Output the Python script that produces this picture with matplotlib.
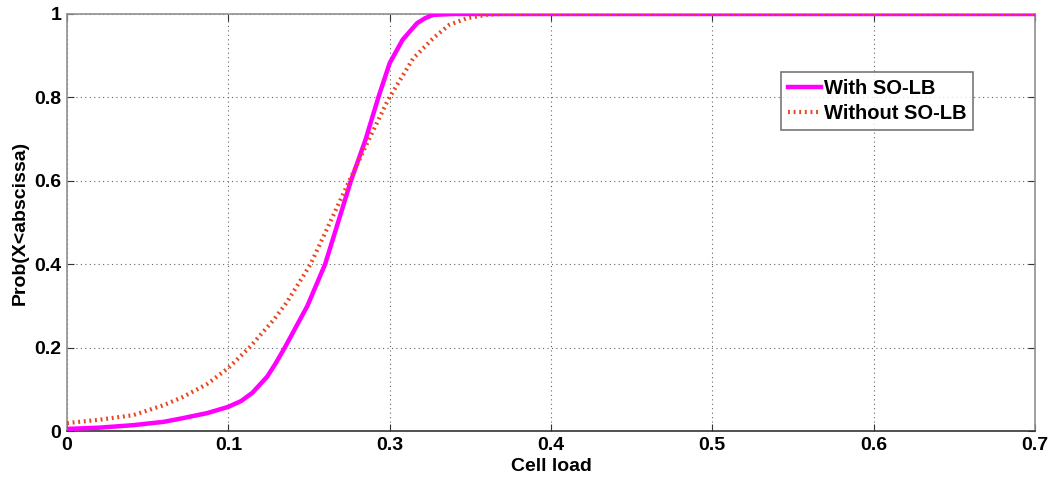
import matplotlib.pyplot as plt

plt.rcParams['font.family'] = ['Liberation Sans', 'DejaVu Sans']
plt.rcParams['font.weight'] = 'bold'

# tick positions on the axis and the labels printed under them (0.2 is missing in the original)
tick_pos = [0, 0.1, 0.2, 0.3, 0.4, 0.5, 0.6]
tick_labels = ['0', '0.1', '0.3', '0.4', '0.5', '0.6', '0.7']
y_ticks = [0, 0.2, 0.4, 0.6, 0.8, 1]
y_labels = ['0', '0.2', '0.4', '0.6', '0.8', '1']

# With SO-LB
x_with = [0, 0.02, 0.041, 0.06, 0.072, 0.087, 0.1, 0.108, 0.115, 0.124, 0.129, 0.135,
          0.142, 0.149, 0.160, 0.168, 0.176, 0.185, 0.193, 0.2, 0.208, 0.217, 0.222,
          0.227, 0.24, 0.6]
y_with = [0.005, 0.008, 0.014, 0.022, 0.031, 0.043, 0.058, 0.072, 0.092, 0.13, 0.16, 0.2,
          0.25, 0.3, 0.4, 0.5, 0.6, 0.698, 0.8, 0.882, 0.938, 0.978, 0.99,
          0.998, 1.0, 1.0]

# Without SO-LB
x_without = [0, 0.02, 0.041, 0.06, 0.072, 0.087, 0.1, 0.113, 0.128, 0.136, 0.151, 0.160,
             0.175, 0.187, 0.199, 0.2145, 0.227, 0.237, 0.248, 0.26, 0.27, 0.6]
y_without = [0.019, 0.027, 0.038, 0.062, 0.082, 0.113, 0.151, 0.2, 0.266, 0.307, 0.4, 0.475,
             0.6, 0.698, 0.794, 0.893, 0.942, 0.974, 0.99, 0.998, 1.0, 1.0]

fig = plt.figure(figsize=(10.57, 4.79), dpi=100)
ax = fig.add_axes([0.0634, 0.1002, 0.9157, 0.8706])

ax.plot(x_with, y_with, color='#FF00FF', lw=3.2, label='With SO-LB', zorder=3)
ax.plot(x_without, y_without, color='#E8461E', lw=3.0, linestyle=(0, (0.45, 0.9)),
        label='Without SO-LB', zorder=4)

ax.set_xlim(0, 0.6)
ax.set_ylim(0, 1)
ax.set_xticks(tick_pos)
ax.set_xticklabels(tick_labels)
ax.set_yticks(y_ticks)
ax.set_yticklabels(y_labels)
ax.tick_params(direction='in', length=5, width=0.8, labelsize=14, pad=4,
               top=True, right=True, colors='#333333', labelcolor='black')
for lab in ax.get_xticklabels() + ax.get_yticklabels():
    lab.set_fontweight('bold')

ax.grid(True, linestyle=(0, (1, 3)), color='#666666', lw=0.8)
for s in ['top', 'right', 'left']:
    ax.spines[s].set_color('#909090')
ax.spines['bottom'].set_color('#333333')
for s in ax.spines.values():
    s.set_linewidth(1.2)

ax.set_xlabel('Cell load', fontsize=14, fontweight='bold', labelpad=3)
ax.set_ylabel('Prob(X<abscissa)', fontsize=14, fontweight='bold', labelpad=4)

leg = ax.legend(loc='upper left', bbox_to_anchor=(0.738, 0.862), fontsize=14.5,
                frameon=True, fancybox=False, handlelength=1.6, handletextpad=0.15,
                borderpad=0.35, labelspacing=0.3, borderaxespad=0)
leg.get_frame().set_edgecolor('#555555')
leg.get_frame().set_linewidth(1.2)
for t in leg.get_texts():
    t.set_fontweight('bold')

fig.savefig('out.png', dpi=100)
